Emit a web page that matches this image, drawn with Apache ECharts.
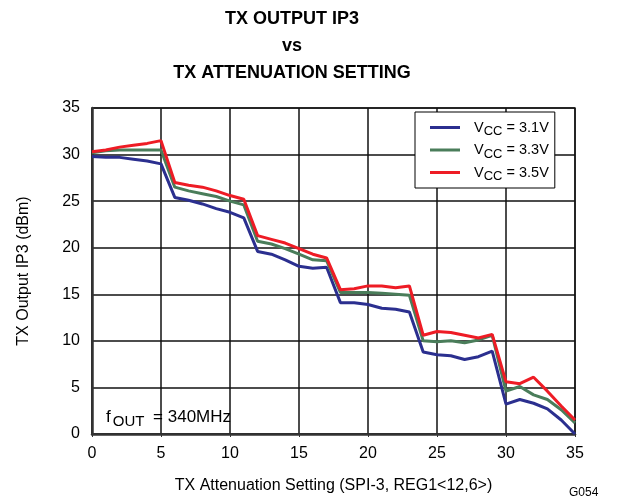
<!DOCTYPE html>
<html>
<head>
<meta charset="utf-8">
<script src="https://cdn.jsdelivr.net/npm/echarts@6/dist/echarts.min.js"></script>
<style>html,body{margin:0;padding:0;background:#fff}#c{width:617px;height:503px}</style>
</head>
<body>
<div id="c"></div>
<script>
var settings = [0,1,2,3,4,5,6,7,8,9,10,11,12,13,14,15,16,17,18,19,20,21,22,23,24,25,26,27,28,29,30,31,32,33,34,35];
var vcc31 = [29.8,29.7,29.7,29.5,29.3,29.0,25.4,25.1,24.7,24.2,23.8,23.2,19.6,19.3,18.7,18.0,17.8,17.9,14.1,14.1,13.9,13.5,13.4,13.1,8.8,8.5,8.4,8.0,8.3,8.9,3.2,3.7,3.3,2.7,1.5,0.0];
var vcc33 = [30.2,30.4,30.5,30.5,30.5,30.5,26.5,26.1,25.8,25.5,25.0,24.6,20.7,20.4,19.9,19.3,18.7,18.6,15.2,15.2,15.2,15.1,15.0,14.9,10.0,9.9,10.0,9.8,10.1,10.6,4.6,5.1,4.2,3.7,2.6,1.2];
var vcc35 = [30.3,30.5,30.8,31.0,31.2,31.5,27.0,26.7,26.5,26.1,25.6,25.2,21.3,20.9,20.5,19.9,19.3,18.9,15.5,15.6,15.9,15.9,15.7,15.9,10.6,11.0,10.9,10.6,10.3,10.7,5.6,5.4,6.1,4.6,3.0,1.5];
var seriesNames = ['3.1V','3.3V','3.5V'];
var xTicks = [0,5,10,15,20,25,30,35];
var yTicks = [0,5,10,15,20,25,30,35];

var FONT = 'Liberation Sans, Arial, sans-serif';
function pairs(vals){ return settings.map(function(s,i){ return [s, vals[i]]; }); }
var colors = ['#2b2f8f','#4a7d5a','#ee1c25'];
var allVals = [vcc31, vcc33, vcc35];

var chart = echarts.init(document.getElementById('c'), null, {renderer:'canvas'});
chart.setOption({
  animation: false,
  backgroundColor: '#fff',
  title: {
    text: 'TX OUTPUT IP3\nvs\nTX ATTENUATION SETTING',
    left: 287, top: 1, textAlign: 'center',
    textStyle: {fontFamily: FONT, fontWeight: 'bold', fontSize: 18, lineHeight: 27, color: '#000'}
  },
  grid: {left: 92, right: 42, top: 108, bottom: 69, show: true, borderColor: '#333', borderWidth: 1.5, backgroundColor: '#fff'},
  legend: {
    orient: 'vertical', left: 415, top: 112,
    backgroundColor: '#fff', borderColor: '#000', borderWidth: 1, borderRadius: 0,
    padding: [5, 6, 5, 15], itemGap: 1.5, itemWidth: 30, itemHeight: 3, icon: 'rect',
    data: seriesNames.map(function(n){ return {name: n}; }),
    formatter: function(n){ return '{g|}{v|V}{s|CC}{v| = ' + n + '}'; },
    textStyle: {
      fontFamily: FONT, color: '#000',
      rich: {
        g: {width: 9, lineHeight: 16},
        v: {fontFamily: FONT, fontSize: 14.5, color: '#000', lineHeight: 16},
        s: {fontFamily: FONT, fontSize: 13, color: '#000', lineHeight: 12, padding: [8, 0, 0, 0]}
      }
    }
  },
  xAxis: {
    type: 'value', min: 0, max: 35, interval: 5,
    name: 'TX Attenuation Setting (SPI-3, REG1<12,6>)', nameLocation: 'middle', nameGap: 44,
    nameTextStyle: {fontFamily: FONT, fontSize: 16, color: '#000'},
    axisLine: {show: true, lineStyle: {color: '#333', width: 2.5}},
    axisTick: {show: true, length: 3, lineStyle: {color: '#333'}},
    axisLabel: {fontFamily: FONT, fontSize: 16, color: '#000', margin: 12,
      formatter: function(v){ return xTicks.indexOf(v) >= 0 ? String(v) : ''; }},
    splitLine: {show: true, lineStyle: {color: '#111', width: 1.5}}
  },
  yAxis: {
    type: 'value', min: 0, max: 35, interval: 5,
    name: 'TX Output IP3 (dBm)', nameLocation: 'middle', nameGap: 60,
    nameTextStyle: {fontFamily: FONT, fontSize: 16, color: '#000'},
    axisLine: {show: true, lineStyle: {color: '#333', width: 2.5}},
    axisTick: {show: false},
    axisLabel: {fontFamily: FONT, fontSize: 16, color: '#000', margin: 12,
      formatter: function(v){ return yTicks.indexOf(v) >= 0 ? String(v) : ''; }},
    splitLine: {show: true, lineStyle: {color: '#111', width: 1.5}}
  },
  graphic: [
    {type: 'text', left: 106, top: 405, z: 100, style: {
      text: '{a|f}{s|OUT}{a| = 340MHz}', fill: '#000',
      rich: {
        a: {fontFamily: FONT, fontSize: 17, fill: '#000', lineHeight: 18},
        s: {fontFamily: FONT, fontSize: 15, fill: '#000', lineHeight: 14, padding: [9, 4, 0, 2]}
      }
    }},
    {type: 'text', left: 569, top: 487, style: {text: 'G054', font: '12px ' + FONT, fill: '#000'}}
  ],
  series: seriesNames.map(function(n, k){
    return {
      name: n, type: 'line', data: pairs(allVals[k]), symbol: 'none', showSymbol: false,
      lineStyle: {color: colors[k], width: 3}, itemStyle: {color: colors[k]}, z: 3 + k
    };
  })
});
</script>
</body>
</html>
